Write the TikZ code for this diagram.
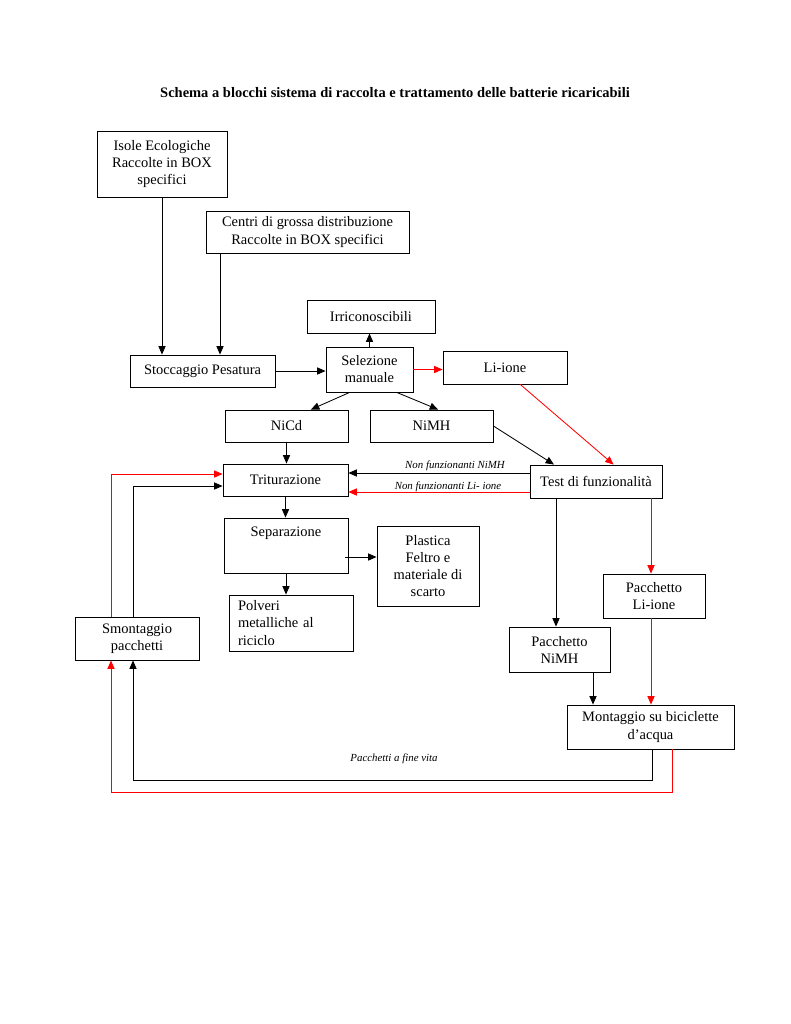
\documentclass[tikz,border=0pt]{standalone}
\usepackage{fontspec}
\setmainfont{Liberation Serif}
\usetikzlibrary{arrows.meta}
\newlength\pxu
\setlength\pxu{0.7737pt}

\begin{document}
\begin{tikzpicture}[x=\pxu, y=-\pxu,
    box/.style={draw, line width=0.7pt, align=center, inner sep=0pt, font=\fontsize{11.2}{13.2}\selectfont},
    arr/.style={line width=0.65pt, -{Triangle[length=6.5pt,width=5.5pt]}},
    redarr/.style={arr, red},
    note/.style={font=\fontsize{8.4}{10}\selectfont\itshape}]
        \useasboundingbox (0,0) rectangle (791,1024);
        \node[font=\fontsize{11.2}{13.2}\selectfont\bfseries] (title) at (395,93) {Schema a blocchi sistema di raccolta e trattamento delle batterie ricaricabili};

        \node[box, minimum width=130\pxu, minimum height=66\pxu] (isole) at (162,164) {Isole Ecologiche\\Raccolte in BOX\\specifici};
        \node[box, minimum width=203\pxu, minimum height=42\pxu] (centri) at (307.5,232) {Centri di grossa distribuzione\\Raccolte in BOX specifici};
        \node[box, minimum width=128\pxu, minimum height=33\pxu] (irric) at (371,316.5) {Irriconoscibili};
        \node[box, minimum width=145\pxu, minimum height=32\pxu] (stocc) at (202.5,371) {Stoccaggio Pesatura};
        \node[box, minimum width=87\pxu, minimum height=45\pxu] (selez) at (369.5,369.5) {Selezione\\manuale};
        \node[box, minimum width=124\pxu, minimum height=33\pxu] (liione) at (505,367.5) {Li-ione};
        \node[box, minimum width=123\pxu, minimum height=32\pxu] (nicd) at (286.5,426) {NiCd};
        \node[box, minimum width=123\pxu, minimum height=32\pxu] (nimh) at (431.5,426) {NiMH};
        \node[box, minimum width=125\pxu, minimum height=32\pxu] (trit) at (285.5,480) {Triturazione};
        \node[box, minimum width=132\pxu, minimum height=33\pxu] (test) at (596,481.5) {Test di funzionalità};
        \node[box, minimum width=124\pxu, minimum height=55\pxu,
            label={[anchor=center, font=\fontsize{11.2}{13.2}\selectfont, yshift=-16\pxu]north:Separazione}] (separ) at (286,545.5) {};
        \node[box, minimum width=102\pxu, minimum height=80\pxu] (plastica) at (428,566) {Plastica\\Feltro e\\materiale di\\scarto};
        \node[box, align=left, text width=106\pxu, inner xsep=9\pxu, minimum height=56\pxu] (polveri) at (291,623) {Polveri\\metalliche al\\riciclo};
        \node[box, minimum width=124\pxu, minimum height=43\pxu] (smont) at (137,638.5) {Smontaggio\\pacchetti};
        \node[box, minimum width=102\pxu, minimum height=44\pxu] (pliione) at (654,596) {Pacchetto\\Li-ione};
        \node[box, minimum width=101\pxu, minimum height=45\pxu] (pnimh) at (559.5,649.5) {Pacchetto\\NiMH};
        \node[box, minimum width=167\pxu, minimum height=44\pxu] (mont) at (650.5,727) {Montaggio su biciclette\\d’acqua};

        \coordinate (xcentri) at (220,0);
        \coordinate (ynimh) at (0,473);
        \coordinate (yli) at (0,492);
        \coordinate (yscarto) at (0,557);
        \coordinate (xtnimh) at (556,0);
        \coordinate (xtli) at (651,0);
        \coordinate (xpn) at (593,0);
        \coordinate (xmk) at (652,0);
        \coordinate (xmr) at (672,0);
        \coordinate (yk) at (0,780);
        \coordinate (yr) at (0,792);
        \coordinate (xk) at (133,0);
        \coordinate (xr) at (111,0);
        \coordinate (ytr) at (0,474);
        \coordinate (ytk) at (0,486);

        \draw[arr] (isole.south) -- (isole.south |- stocc.north);
        \draw[arr] (centri.south -| xcentri) -- (stocc.north -| xcentri);
        \draw[arr] (stocc.east) -- (stocc.east -| selez.west);
        \draw[arr] (selez.north) -- (selez.north |- irric.south);
        \draw[redarr] (selez.east) -- (selez.east -| liione.west);
        \draw[arr] (selez.229) -- (nicd.34);
        \draw[arr] (selez.320) -- (nimh.68);
        \draw[arr] (nimh.east) -- (test.158);
        \draw[redarr] (liione.312) -- (test.44);
        \draw[arr] (nicd.south) -- (nicd.south |- trit.north);
        \draw[arr] (test.west |- ynimh) -- (trit.east |- ynimh);
        \draw[redarr] (test.west |- yli) -- (trit.east |- yli);
        \draw[arr] (trit.south) -- (trit.south |- separ.north);
        \draw[arr] ([xshift=-3\pxu]separ.east |- yscarto) -- (plastica.west |- yscarto);
        \draw[arr] (separ.south) -- (separ.south |- polveri.north);
        \draw[arr] (test.south -| xtnimh) -- (pnimh.north -| xtnimh);
        \draw[redarr] (test.south -| xtli) -- (pliione.north -| xtli);
        \draw[arr] (pnimh.south -| xpn) -- (mont.north -| xpn);
        \draw[redarr] (pliione.south -| xtli) -- (mont.north -| xtli);
        \draw[arr] (mont.south -| xmk) -- (xmk |- yk) -- (xk |- yk) -- (smont.south -| xk);
        \draw[redarr] (mont.south -| xmr) -- (xmr |- yr) -- (xr |- yr) -- (smont.south -| xr);
        \draw[redarr] (smont.north -| xr) -- (xr |- ytr) -- (trit.west |- ytr);
        \draw[arr] (smont.north -| xk) -- (xk |- ytk) -- (trit.west |- ytk);

        \node[note] (nfnimh) at (455,466) {Non funzionanti NiMH};
        \node[note] (nfli) at (448,487) {Non funzionanti Li- ione};
        \node[note] (finevita) at (394,759) {Pacchetti a fine vita};
\end{tikzpicture}
\end{document}
